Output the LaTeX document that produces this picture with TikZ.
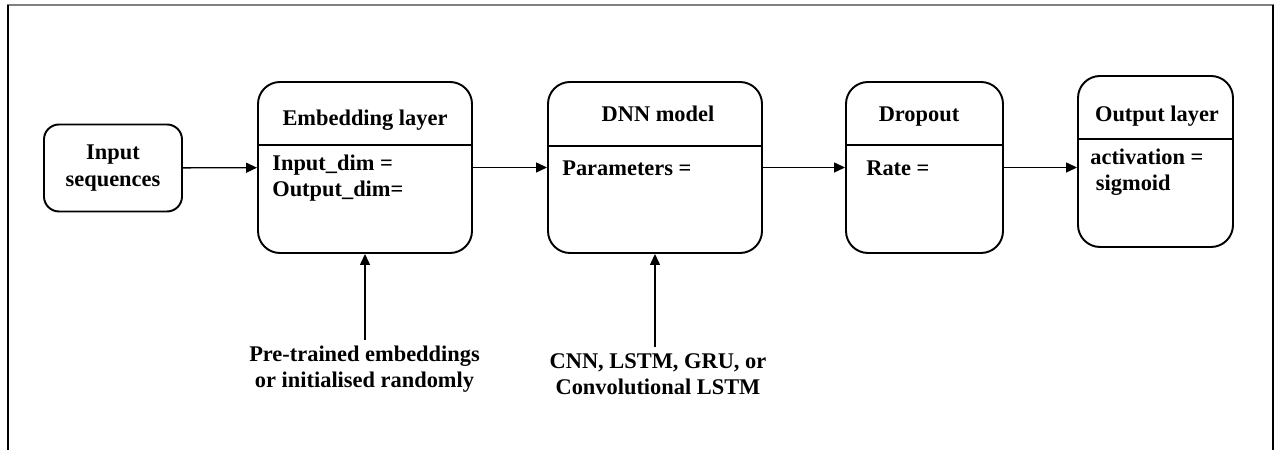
\documentclass[tikz,border=0pt]{standalone}
\usepackage{fontspec}
\setmainfont{Liberation Serif}
\usetikzlibrary{arrows.meta}
\begin{document}
\begin{tikzpicture}[x=0.2mm, y=-0.2mm, font=\fontsize{12.75}{15.1}\selectfont\bfseries,
	layer/.style={draw, line width=1.1pt, rounded corners=4.4mm, minimum height=34.2mm},
	txt/.style={inner sep=0pt, anchor=base west, align=left},
	arr/.style={line width=0.75pt, -{Triangle[length=2.2mm, width=2mm]}}]
		\useasboundingbox (0,0) rectangle (1277,450);
		\draw[gray, line width=0.8pt] (7,5) -- (1274,5);
		\draw[line width=1.3pt] (8,5) -- (8,450) (1273,5) -- (1273,450);
		\node[draw, line width=1.1pt, rounded corners=3mm, minimum width=27.6mm, minimum height=17.4mm, align=center] (input) at (113,168) {Input\\sequences};
		\node[layer, minimum width=42.8mm] (embed) at (365,167.5) {};
		\node[layer, minimum width=42.8mm] (dnn) at (655,167.5) {};
		\node[layer, minimum width=31.4mm] (dropout) at (924.5,167.5) {};
		\node[layer, minimum width=31mm] (output) at (1155.5,161.5) {};
		\draw[line width=1pt] (embed.north west) ++(0,64) -- ++(214,0);
		\draw[line width=1pt] (dnn.north west) ++(0,65) -- ++(214,0);
		\draw[line width=1pt] (dropout.north west) ++(0,64) -- ++(157,0);
		\draw[line width=1pt] (output.north west) ++(0,64) -- ++(155,0);
		\node[txt, anchor=base] (embed-head) at (365,126) {Embedding layer};
		\node[txt, anchor=base] (dnn-head) at (658,122) {DNN model};
		\node[txt, anchor=base] (dropout-head) at (919,122) {Dropout};
		\node[txt, anchor=base] (output-head) at (1157,122) {Output layer};
		\node[txt] (embed-body) at (272,197) {Input\_dim =\\Output\_dim=};
		\node[txt] (dnn-body) at (562,176) {Parameters =};
		\node[txt] (dropout-body) at (866,176) {Rate =};
		\node[txt] (output-body) at (1090,191) {activation =\\~sigmoid};
		\node[anchor=base, align=center] (pretrain) at (364.5,388) {Pre-trained embeddings\\or initialised randomly};
		\node[anchor=base, align=center] (cnn) at (658,395) {CNN, LSTM, GRU, or\\Convolutional LSTM};
		\draw[arr] (input) -- (embed);
		\draw[arr] (embed) -- (dnn);
		\draw[arr] (dnn) -- (dropout);
		\draw[arr] (dropout) -- (dropout -| output.west);
		\draw[arr] (pretrain.north -| embed.south) -- (embed.south);
		\draw[arr] (cnn.north -| dnn.south) -- (dnn.south);
\end{tikzpicture}
\end{document}
